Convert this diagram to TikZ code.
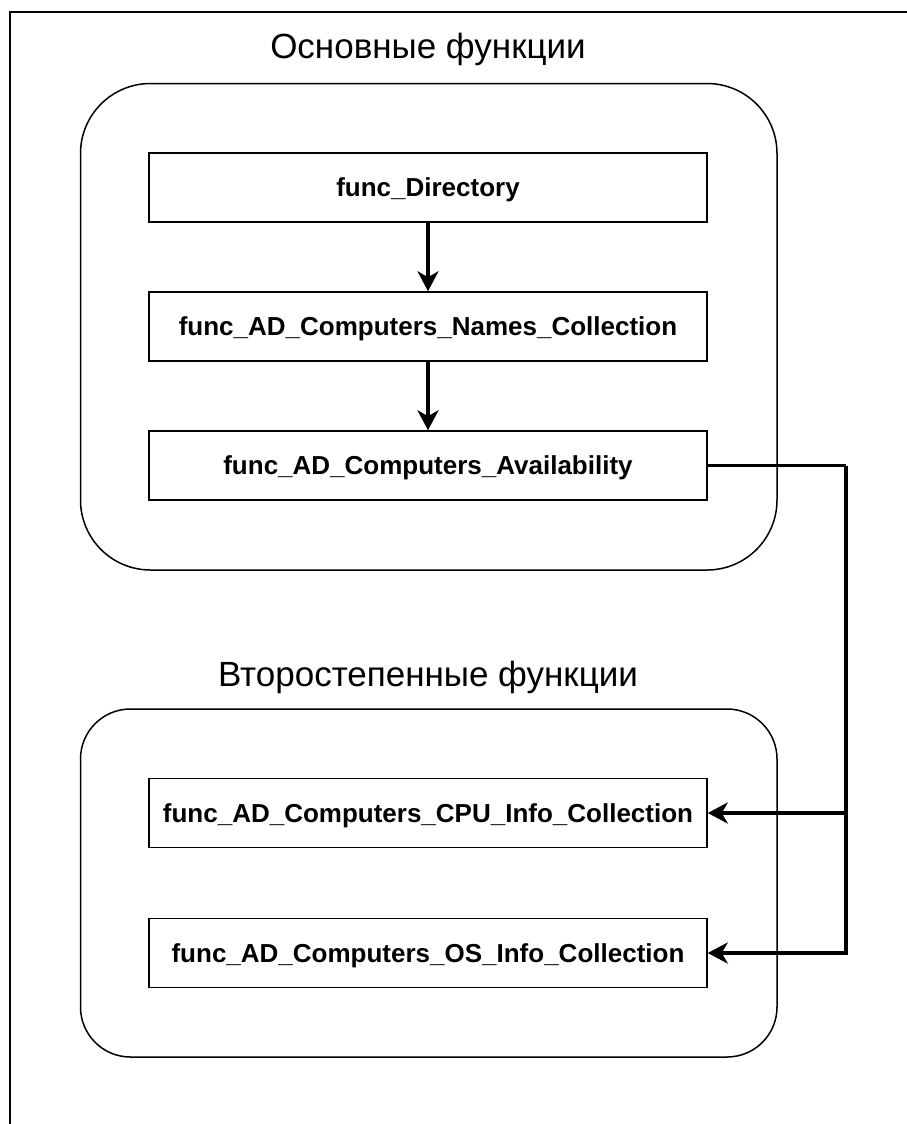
\documentclass[tikz,border=0pt]{standalone}
\usepackage{fontspec}
\setmainfont{Liberation Sans}
\usetikzlibrary{arrows.meta}
\begin{document}
\begin{tikzpicture}[x=1pt,y=-1pt,
  funcbox/.style={draw, line width=1.5pt, rectangle, minimum width=558pt, minimum height=69pt,
    inner sep=0pt, text height=18.5pt, text depth=0pt,
    font=\fontsize{26}{30}\selectfont\bfseries},
  groupbox/.style={draw, line width=1.5pt},
  grouptitle/.style={font=\fontsize{35}{40}\selectfont, inner sep=0pt},
  link/.style={line width=3.5pt},
  flow/.style={link, -{Stealth[length=20pt,width=21pt,inset=6pt]}},
  frame/.style={line width=2pt}]
\useasboundingbox (0,0) rectangle (907,1124);

% outer frame (top and left edges)
\draw[frame] (9.5,1124) -- (9.5,12.5) -- (907,12.5);

% group containers
\draw[groupbox, rounded corners=70pt] (80.5,83.5) rectangle (777,570);
\draw[groupbox, rounded corners=50pt] (80.5,709) rectangle (777,1057);

\node[grouptitle] (t1) at (428,49) {Основные функции};
\node[grouptitle] (t2) at (428,677) {Второстепенные функции};

% function boxes
\node[funcbox] (dir)   at (428,187.5) {func\_Directory};
\node[funcbox] (names) at (428,326.5) {func\_AD\_Computers\_Names\_Collection};
\node[funcbox] (avail) at (428,465.5) {func\_AD\_Computers\_Availability};
\node[funcbox] (cpu)   at (428,813)   {func\_AD\_Computers\_CPU\_Info\_Collection};
\node[funcbox] (os)    at (428,953)   {func\_AD\_Computers\_OS\_Info\_Collection};

\coordinate (bus) at (846,465.5);

% connectors
\draw[flow] (dir) -- (names);
\draw[flow] (names) -- (avail);
\draw[link] (avail.east) -- (bus);
\draw[flow] (bus) |- (cpu.east);
\draw[flow] (bus) |- (os.east);
\end{tikzpicture}
\end{document}
